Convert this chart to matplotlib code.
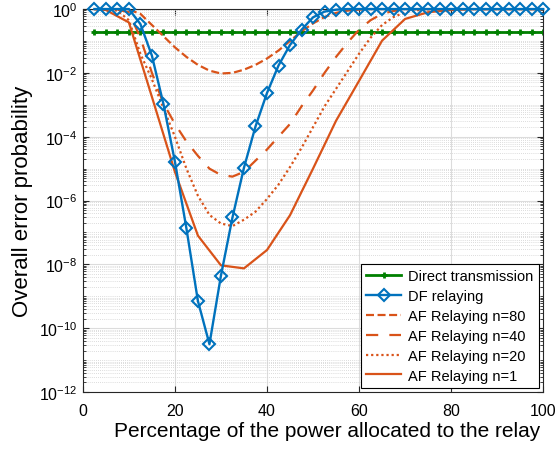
import numpy as np
import matplotlib
matplotlib.use('Agg')
import matplotlib.pyplot as plt
from matplotlib.ticker import LogLocator, NullFormatter

plt.rcParams['font.family'] = ['Liberation Sans', 'DejaVu Sans']

# power allocated to relay (%)
x_fine = np.arange(2.5, 100.01, 2.5)
x_n1 = np.array([2.5] + list(range(5, 101, 5)))

# direct transmission error probability (constant)
direct_p = 0.195

# log10 of error probabilities
df_log = [0, 0, 0, 0, -0.47, -1.46, -2.97, -4.78, -6.875, -9.15,
          -10.5, -8.35, -6.53, -4.97, -3.68, -2.63, -1.77, -1.125, -0.65, -0.26,
          -0.08, -0.02, 0, 0, 0, 0, 0, 0, 0, 0,
          0, 0, 0, 0, 0, 0, 0, 0, 0, 0]
af80_log = [0, 0, 0, -0.02, -0.15, -0.5, -0.85, -1.2, -1.5, -1.75,
            -1.93, -2.02, -2.0, -1.9, -1.75, -1.55, -1.3, -1.0, -0.7, -0.45,
            -0.25, -0.12, -0.05, -0.02, 0, 0, 0, 0, 0, 0,
            0, 0, 0, 0, 0, 0, 0, 0, 0, 0]
af40_log = [0, 0, -0.02, -0.1, -0.9, -2.0, -2.95, -3.6, -4.15, -4.6,
            -5.0, -5.2, -5.25, -5.1, -4.75, -4.4, -4.0, -3.6, -3.05, -2.55,
            -2.0, -1.5, -1.05, -0.65, -0.35, -0.15, -0.06, -0.02, 0, 0,
            0, 0, 0, 0, 0, 0, 0, 0, 0, 0]
af20_log = [0, -0.01, -0.05, -0.35, -1.4, -2.2, -3.1, -4.0, -5.0, -5.85,
            -6.45, -6.72, -6.8, -6.6, -6.35, -5.95, -5.5, -4.95, -4.35, -3.7,
            -3.05, -2.5, -1.95, -1.4, -0.9, -0.5, -0.25, -0.1, -0.04, -0.01,
            0, 0, 0, 0, 0, 0, 0, 0, 0, 0]
af1_log = [0, -0.03, -0.42, -2.75, -5.1, -7.1, -8.03, -8.125, -7.55, -6.46,
           -5.0, -3.5, -2.25, -0.99, -0.31, -0.1, -0.03, 0, 0, 0, 0]

blue = '#0072BD'
orange = '#D95319'
green = '#008000'

fig = plt.figure(figsize=(5.56, 4.56), dpi=100)
ax = fig.add_axes([0.149, 0.138, 0.828, 0.84])

ax.semilogy(x_fine, np.full(len(x_fine), direct_p), color=green, lw=2, marker='+',
            ms=5, mew=2, label='Direct transmission')
ax.semilogy(x_fine, 10.0 ** np.array(df_log), color=blue, lw=1.7, marker='D', ms=6.3,
            mfc='none', mew=1.5, label='DF relaying', clip_on=False, zorder=3)
ax.semilogy(x_fine, 10.0 ** np.array(af80_log), color=orange, lw=1.6,
            linestyle=(0, (3.6, 1.6)), label='AF Relaying n=80')
ax.semilogy(x_fine, 10.0 ** np.array(af40_log), color=orange, lw=1.6,
            linestyle=(0, (5.5, 5)), label='AF Relaying n=40')
ax.semilogy(x_fine, 10.0 ** np.array(af20_log), color=orange, lw=1.6,
            linestyle=(0, (1, 1.3)), label='AF Relaying n=20')
ax.semilogy(x_n1, 10.0 ** np.array(af1_log), color=orange, lw=1.6,
            label='AF Relaying n=1')

ax.set_xlim(0, 100)
ax.set_ylim(1e-12, 1e0)
ax.set_xticks([0, 20, 40, 60, 80, 100])
ax.set_yticks([1e-12, 1e-10, 1e-8, 1e-6, 1e-4, 1e-2, 1e0])
ax.yaxis.set_minor_locator(LogLocator(base=10, subs=np.arange(1, 10), numticks=100))
ax.yaxis.set_minor_formatter(NullFormatter())

ax.grid(True, which='major', color='#dcdcdc', lw=0.8)
ax.grid(True, which='minor', axis='y', color='#d0d0d0', lw=0.6, linestyle=(0, (1, 1.5)))
ax.set_axisbelow(True)

ax.tick_params(which='both', direction='in', top=True, right=True, labelsize=11.5,
               color='#262626')
ax.tick_params(which='major', length=4)
ax.tick_params(which='minor', length=2)
ax.tick_params(axis='x', pad=8)
ax.tick_params(axis='y', pad=4)
for s in ax.spines.values():
    s.set_color('#262626')
    s.set_linewidth(0.8)

ax.set_xlabel('Percentage of the power allocated to the relay', fontsize=15, labelpad=4)
ax.xaxis.set_label_coords(0.53, -0.075)
ax.set_ylabel('Overall error probability', fontsize=16, labelpad=4)

leg = ax.legend(loc='lower right', fontsize=10.5, frameon=True, fancybox=False,
                edgecolor='black', framealpha=1, handlelength=2.4,
                borderaxespad=0.3, labelspacing=0.4, handletextpad=0.5,
                borderpad=0.35)
leg.get_frame().set_linewidth(0.8)

fig.savefig('out.png', dpi=100)
